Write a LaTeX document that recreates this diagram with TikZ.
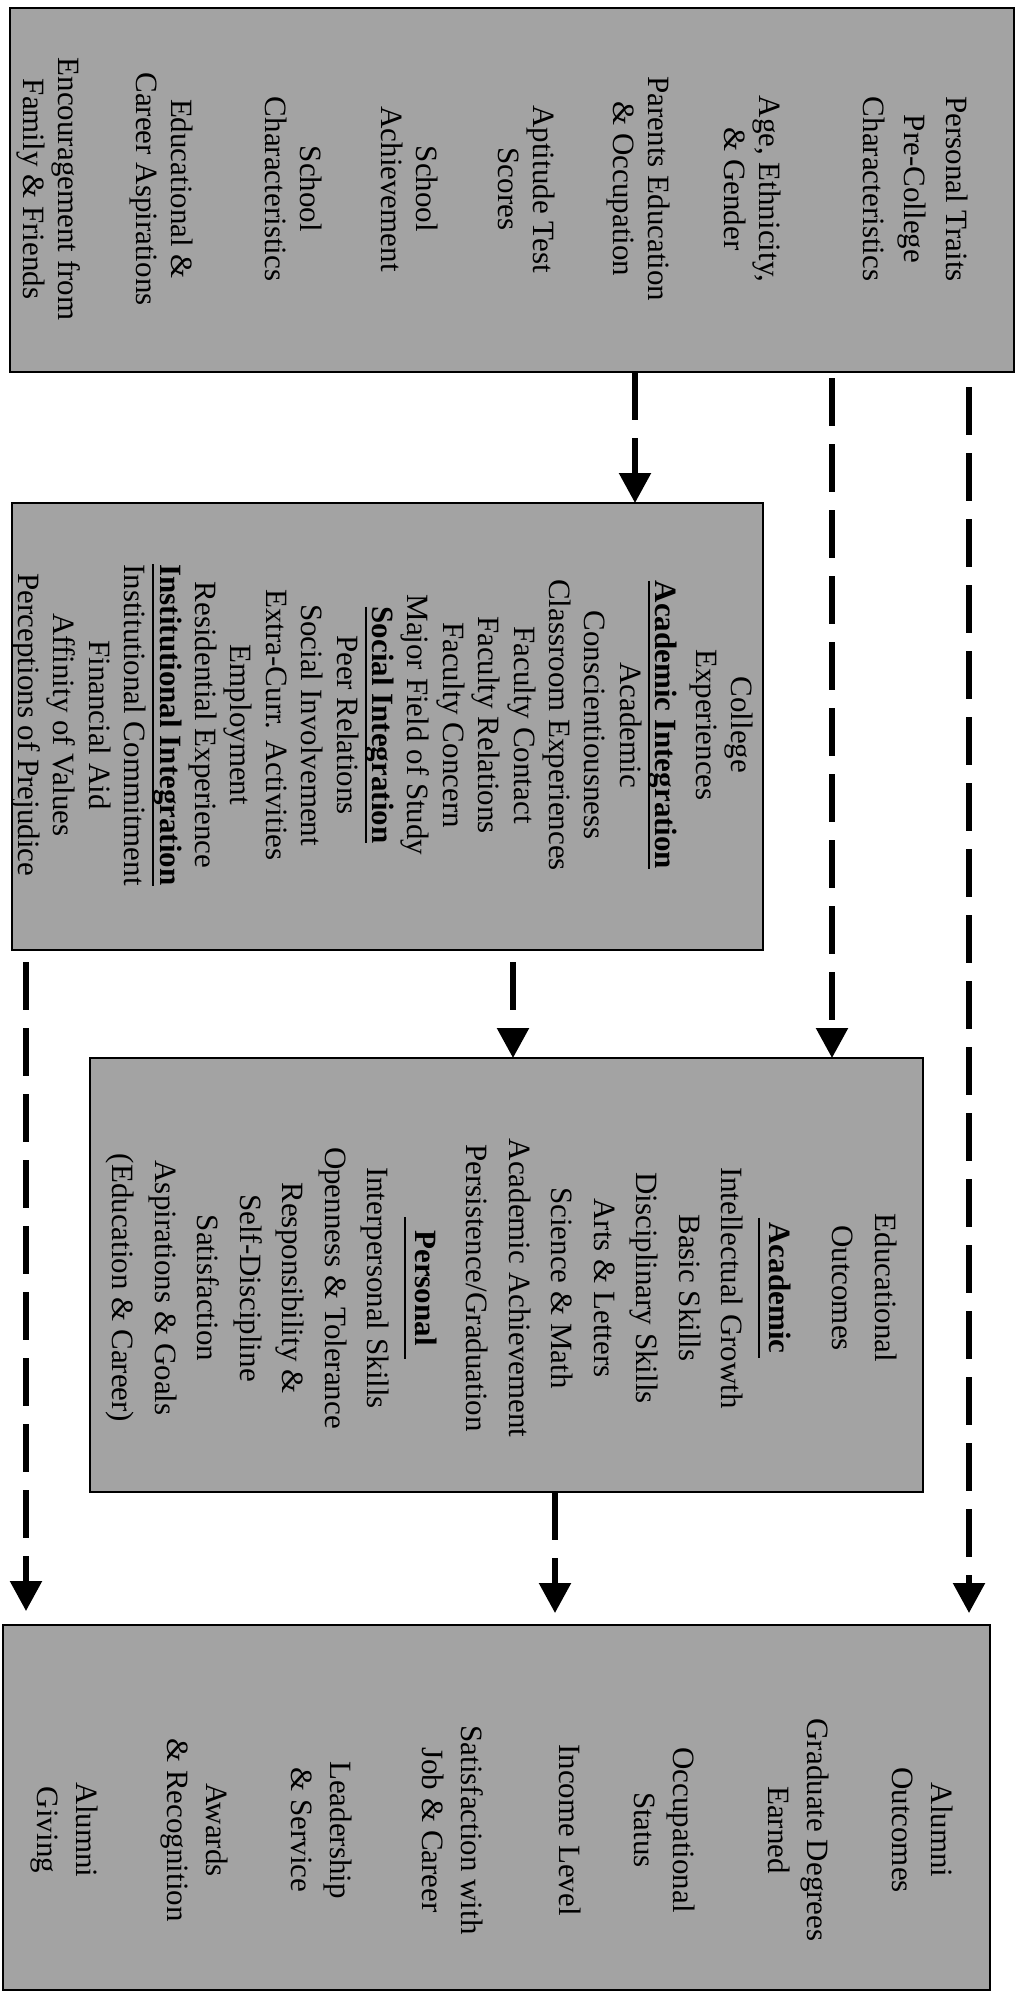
\documentclass[tikz,border=0pt]{standalone}
\usepackage{fontspec}
\setmainfont{Liberation Serif}
\usetikzlibrary{arrows.meta}
\definecolor{panelgrey}{gray}{0.64}
% bold heading with a rule under it: #1 overhang, #2 drop below baseline, #3 text
\newcommand\headul[3]{\setbox0=\hbox{\bfseries #3}\leavevmode\rlap{\kern-#1\vrule width \dimexpr\wd0+#1+#1\relax height -#2 depth \dimexpr#2+2pt\relax}\box0}
\begin{document}
\begin{tikzpicture}[x=1pt,y=-1pt,
  panel/.style={draw=black, line width=1.8pt, fill=panelgrey, inner sep=0pt, outer sep=0pt},
  panellabel/.style={rotate=-90, align=center, inner sep=0pt, text=black},
  flow/.style={line width=5.5pt, dash pattern=on 48pt off 18pt,
    -{Triangle[length=30pt,width=31pt]}}]
\useasboundingbox (0,0) rectangle (1020,1993);

% the four stages
\node[panel, minimum width=1004pt, minimum height=364pt] (pre) at (512,190) {};
\node[panel, minimum width=751pt, minimum height=447pt] (college) at (387.5,726.5) {};
\node[panel, minimum width=833pt, minimum height=434pt] (edu) at (506.5,1275) {};
\node[panel, minimum width=987pt, minimum height=365pt] (alumni) at (496.5,1807.5) {};

% stage contents, set sideways
\node[panellabel, font=\fontsize{31}{35.5}\selectfont] (preText) at (492,189)
  {Personal Traits\\[6pt]Pre-College\\[6pt]Characteristics\\[68pt]Age, Ethnicity,\\\& Gender\\[40pt]Parents Education\\\& Occupation\\[44pt]Aptitude Test\\Scores\\[46pt]School\\Achievement\\[45pt]School\\Characteristics\\[58pt]Educational \&\\Career Aspirations\\[42pt]Encouragement from\\Family \& Friends};

\node[panellabel, font=\fontsize{31}{35.4}\selectfont] (collegeText) at (382.5,725)
  {College\\Experiences\\[5pt]\headul{0pt}{6pt}{Academic Integration}\\Academic\\Conscientiousness\\Classroom Experiences\\Faculty Contact\\Faculty Relations\\Faculty Concern\\Major Field of Study\\\headul{0pt}{6pt}{Social Integration}\\Peer Relations\\Social Involvement\\Extra-Curr. Activities\\Employment\\Residential Experience\\\headul{0pt}{6pt}{Institutional Integration}\\Institutional Commitment\\Financial Aid\\Affinity of Values\\Perceptions of Prejudice};

\node[panellabel, font=\fontsize{31}{42.5}\selectfont] (eduText) at (501.5,1288)
  {Educational\\Outcomes\\[20.5pt]\headul{5pt}{10pt}{Academic}\\[5.5pt]Intellectual Growth\\Basic Skills\\Disciplinary Skills\\Arts \& Letters\\Science \& Math\\Academic Achievement\\Persistence/Graduation\\[8.5pt]\headul{13pt}{10pt}{Personal}\\[5.5pt]Interpersonal Skills\\Openness \& Tolerance\\Responsibility \&\\Self-Discipline\\Satisfaction\\Aspirations \& Goals\\(Education \& Career)};

\node[panellabel, font=\fontsize{31}{39}\selectfont] (alumniText) at (491.5,1830)
  {Alumni\\Outcomes\\[46pt]Graduate Degrees\\Earned\\[56pt]Occupational\\Status\\[36pt]Income Level\\[59pt]Satisfaction with\\Job \& Career\\[53pt]Leadership\\\& Service\\[46pt]Awards\\\& Recognition\\[52pt]Alumni\\Giving};

% influences between the stages
\draw[flow] ([xshift=625pt]pre.south west) -- ([xshift=623pt]college.north west);
\draw[flow, shorten <=6pt] ([xshift=822pt]pre.south west) -- ([xshift=742pt]edu.north west);
\draw[flow, shorten <=15pt, shorten >=12pt] ([xshift=959pt]pre.south west) -- ([xshift=966pt]alumni.north west);
\draw[flow, shorten <=12pt] ([xshift=501pt]college.south west) -- ([xshift=423pt]edu.north west);
\draw[flow, shorten <=12pt, shorten >=14pt] ([xshift=14pt]college.south west) -- ([xshift=23pt]alumni.north west);
\draw[flow, shorten >=12pt] ([xshift=465pt]edu.south west) -- ([xshift=552pt]alumni.north west);
\end{tikzpicture}
\end{document}
